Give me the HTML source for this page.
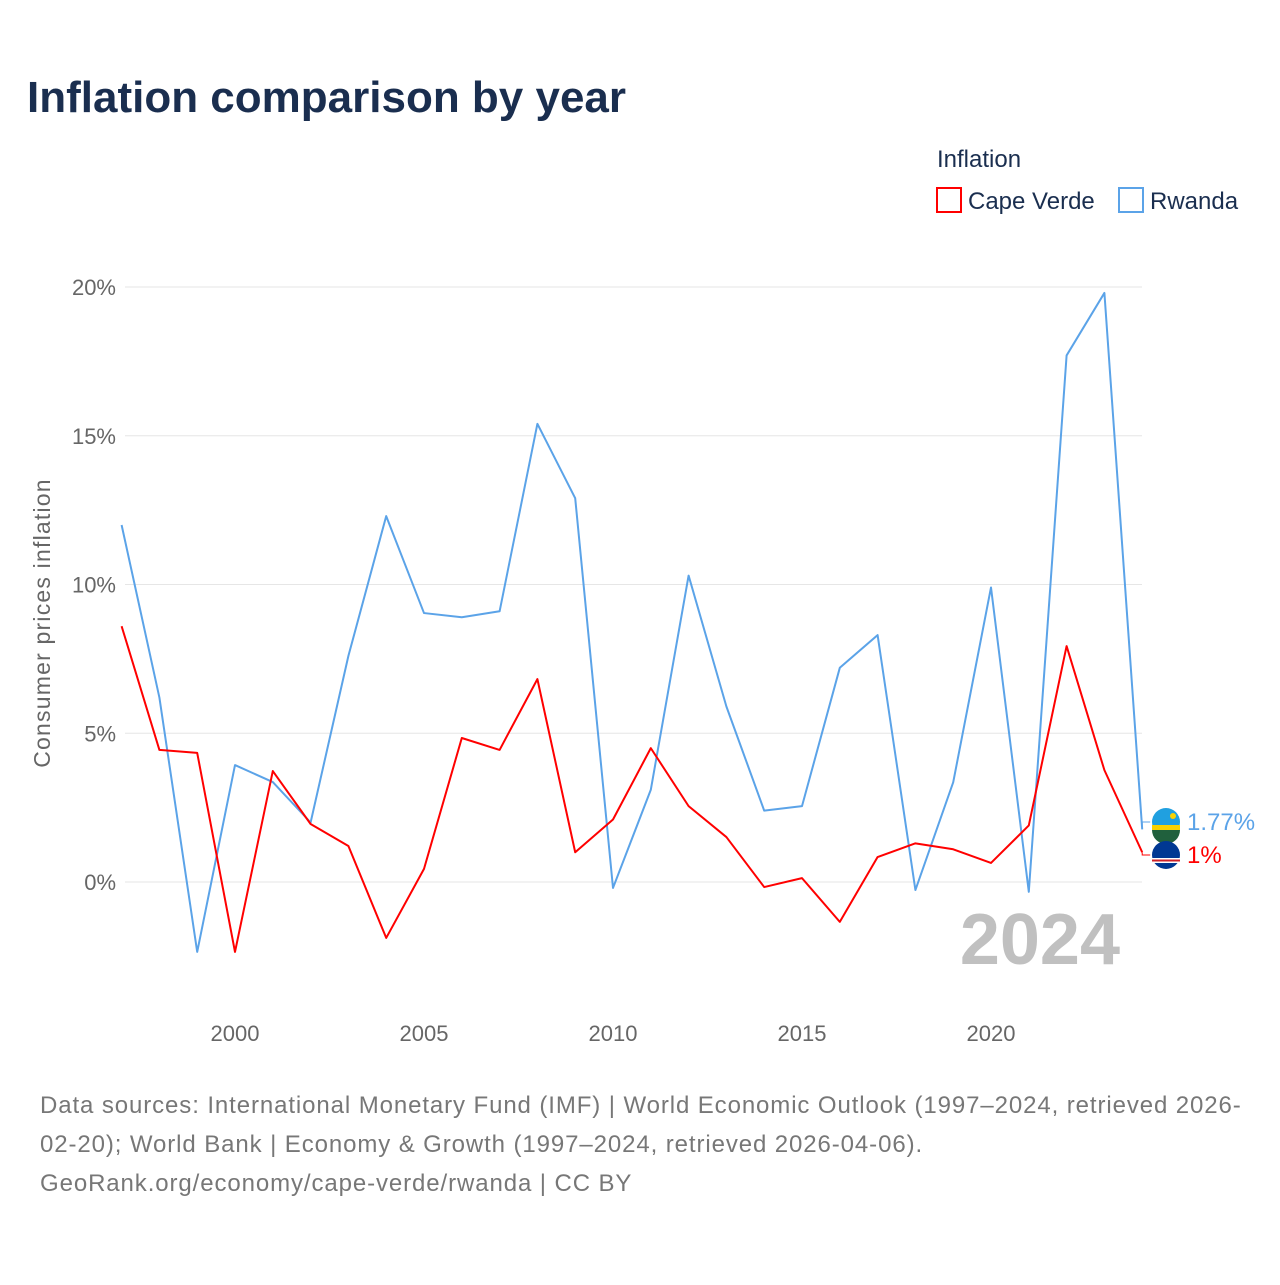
<!DOCTYPE html>
<html><head><meta charset="utf-8"><style>
body{margin:0;background:#fff;font-family:"Liberation Sans",sans-serif;}
svg text{font-family:"Liberation Sans",sans-serif;}
</style></head><body>
<svg id="c" width="1280" height="1280" xmlns="http://www.w3.org/2000/svg">
<text x="27" y="112" font-size="44" font-weight="bold" fill="#1a2e4f">Inflation comparison by year</text>
<text x="937" y="167" font-size="24" fill="#1a2e4f">Inflation</text>
<g><rect x="937" y="188" width="24" height="24" fill="none" stroke="#f00" stroke-width="2"/><text x="968" y="209" font-size="24" fill="#1a2e4f">Cape Verde</text></g>
<g><rect x="1119" y="188" width="24" height="24" fill="none" stroke="#5ba3e8" stroke-width="2"/><text x="1150" y="209" font-size="24" fill="#1a2e4f">Rwanda</text></g>
<text transform="translate(50,623) rotate(-90)" text-anchor="middle" font-size="23" letter-spacing="1.2" fill="#666">Consumer prices inflation</text>
<g id="grid"></g><g id="xt"></g>
<text x="1120" y="964" text-anchor="end" font-size="72" font-weight="bold" fill="#c0c0c0">2024</text>
<g id="lines"></g>
<g letter-spacing="0.9">
<text x="40" y="1113" font-size="24" fill="#777">Data sources: International Monetary Fund (IMF) | World Economic Outlook (1997–2024, retrieved 2026-</text>
<text x="40" y="1152" font-size="24" fill="#777">02-20); World Bank | Economy &amp; Growth (1997–2024, retrieved 2026-04-06).</text>
<text x="40" y="1191" font-size="24" fill="#777">GeoRank.org/economy/cape-verde/rwanda | CC BY</text>
</g>
</svg>
<script>
const years=[1997,1998,1999,2000,2001,2002,2003,2004,2005,2006,2007,2008,2009,2010,2011,2012,2013,2014,2015,2016,2017,2018,2019,2020,2021,2022,2023,2024];
const rwanda=[12.0,6.2,-2.35,3.93,3.36,2.0,7.6,12.3,9.04,8.9,9.1,15.4,12.9,-0.2,3.1,10.3,5.9,2.4,2.55,7.2,8.3,-0.27,3.35,9.9,-0.33,17.7,19.8,1.77];
const capeVerde=[8.6,4.44,4.34,-2.35,3.73,1.95,1.21,-1.88,0.44,4.84,4.44,6.82,1.0,2.1,4.5,2.55,1.51,-0.17,0.13,-1.34,0.84,1.3,1.1,0.64,1.9,7.93,3.76,1.0];
const yTicks=[0,5,10,15,20];
const xTicks=[2000,2005,2010,2015,2020];
const NS="http://www.w3.org/2000/svg";
const x=v=>235+(v-2000)*37.8;
const y=v=>882-v*29.75;
function mk(t,a,p){const e=document.createElementNS(NS,t);for(const k in a)e.setAttribute(k,a[k]);p.appendChild(e);return e;}
const g=document.getElementById('grid');
yTicks.forEach(t=>{
 const l=mk('line',{x1:125,x2:1142,y1:y(t),y2:y(t),stroke:'#e6e6e6'},g);
 
 
 const tx=mk('text',{x:116,y:y(t)+8,'text-anchor':'end','font-size':22,fill:'#666'},g);tx.textContent=t+'%';
 
 
});
const xt=document.getElementById('xt');
xTicks.forEach(t=>{
 const tx=mk('text',{x:x(t),y:1041,'text-anchor':'middle','font-size':22,fill:'#666'},xt);tx.textContent=t;
 
 
});
const L=document.getElementById('lines');
function series(vals,col,name,ly,label,flag){
 const p=mk('polyline',{points:vals.map((v,i)=>x(years[i])+','+y(v)).join(' '),fill:'none',stroke:col,'stroke-width':2,'stroke-linejoin':'round'},L);
 
 
 const last=vals[vals.length-1];
 mk('polyline',{points:`${x(2024)},${y(last)} ${x(2024)},${ly} ${x(2024)+8},${ly}`,fill:'none',stroke:col,'stroke-width':1},L);
 const c=mk('g',{},L);
 
 
 if(flag==='rw'){
  mk('circle',{cx:1166,cy:ly,r:14,fill:'#20a0e0'},c);
  mk('rect',{x:1152,y:ly+3,width:28,height:5,fill:'#fad201'},c);
  mk('path',{d:`M1152,${ly+8} h28 a14,14 0 0 1 -28,0z`,fill:'#20603d'},c);
  mk('circle',{cx:1173,cy:ly-6,r:3,fill:'#fad201'},c);
 }else{
  mk('circle',{cx:1166,cy:ly,r:14,fill:'#003893'},c);
  mk('rect',{x:1152,y:ly+3,width:28,height:5,fill:'#fff'},c);
  mk('rect',{x:1152,y:ly+4.5,width:28,height:2,fill:'#cf2027'},c);
 }
 const t=mk('text',{x:1187,y:ly+8,'font-size':24,fill:col},L);t.textContent=label;
 
 
}
series(rwanda,'#5ba3e8','rwanda',822,rwanda[rwanda.length-1]+'%','rw');
series(capeVerde,'#ff0000','cape-verde',855,capeVerde[capeVerde.length-1]+'%','cv');
</script>
</body></html>
